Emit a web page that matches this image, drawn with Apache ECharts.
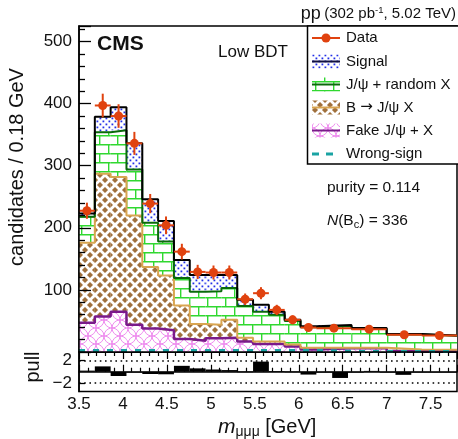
<!DOCTYPE html>
<html><head><meta charset="utf-8">
<script src="https://cdn.jsdelivr.net/npm/echarts@6/dist/echarts.min.js"></script>
<style>html,body{margin:0;padding:0;background:#fff}#c{width:458px;height:439px}</style>
</head><body><div id="c"></div>
<script>
// ---------------- data ----------------
const binEdges     = [3.5, 3.68, 3.86, 4.04, 4.22, 4.40, 4.58, 4.76, 4.94, 5.12, 5.30, 5.48, 5.66, 5.84, 6.02, 6.20, 6.60, 7.00, 7.40, 7.80];
const fakeVals     = [47, 57, 65, 44, 38, 35, 21, 18, 22, 23, 17, 13, 13, 9, 4, 6, 6, 1.5, 1.5];
const bjpsiVals    = [129, 230, 217, 176, 99, 88, 54, 27, 22, 29, 6, 4, 4, 3, 3, 1, 1, 2.5, 2];
const randomVals   = [42, 67, 75, 74, 71, 55, 44, 52, 54, 51, 51, 48, 43, 38, 33, 35, 30.5, 24, 22.5];
const signalVals   = [5, 25, 37, 42, 38, 33, 29, 27, 26, 21, 10, 11, 5, 2, 1.5, 1.5, 1, 1, 0.5];
const wrongSignVals= [2.5, 2.5, 2.5, 2.5, 2.5, 2.5, 2.5, 2.5, 2.5, 2.5, 2.5, 2.5, 2.5, 2.5, 2.5, 1, 1, 1, 1];
const dataVals     = [227.5, 397, 380, 336, 239, 204, 161.6, 129, 128, 128, 85, 94.7, 67.8, 51.8, 39.4, 38.4, 36.8, 27.7, 26.5];
const dataErrs     = [13, 19, 19, 18.5, 15.5, 14.3, 12.7, 11.4, 11.3, 11.3, 9.2, 9.7, 8.2, 7.2, 6.3, 4.2, 4.1, 3.5, 3.5];
const pullStart    = 3.5;
const pullBinWidth = 0.18;
const pullVals     = [0.2, 0.95, -0.75, -0.1, -0.4, -0.45, 1.05, 0.6, 0.4, 0.3, 0.05, 1.8, 0.1, 0.05, -0.5, 0, -1.1, 0, 0.15, 0, -0.55, 0, 0, 0];
const pullRefLevels= [2, -2];
const xTickLabels  = [3.5, 4, 4.5, 5, 5.5, 6, 6.5, 7, 7.5];
const yTickLabels  = [100, 200, 300, 400, 500];
const pullTickLabels = [-2, 2];
const xRange = [3.5, 7.8];
const yRange = [0, 525];
const pullRange = [-3.5, 3.5];

// ---------------- patterns ----------------
function pat(w, h, draw) {
  const c = document.createElement('canvas'); c.width = w; c.height = h;
  const g = c.getContext('2d'); g.fillStyle = '#fff'; g.fillRect(0, 0, w, h); draw(g);
  return { type: 'pattern', image: c, repeat: 'repeat' };
}
const signalPat = pat(6, 6, g => { g.fillStyle = '#2230e8'; g.fillRect(0.5, 0.5, 1.8, 1.8); g.fillRect(3.5, 3.5, 1.8, 1.8); });
const randomPat = pat(18, 18, g => {
  g.strokeStyle = '#30d830'; g.lineWidth = 1.4; g.beginPath();
  g.moveTo(0, 0.7); g.lineTo(18, 0.7); g.moveTo(0, 9.7); g.lineTo(18, 9.7);
  g.moveTo(0.7, 0); g.lineTo(0.7, 9); g.moveTo(9.7, 9); g.lineTo(9.7, 18); g.stroke();
});
const bPat = pat(10, 10, g => {
  g.fillStyle = '#a0703c'; g.fillRect(0, 0, 10, 10);
  g.strokeStyle = '#fff'; g.lineWidth = 2.8; g.beginPath();
  g.moveTo(-1, -1); g.lineTo(11, 11); g.moveTo(11, -1); g.lineTo(-1, 11); g.stroke();
});
const fakePat = pat(16, 16, g => {
  g.strokeStyle = '#ec80ec'; g.lineWidth = 0.9;
  [[8, 8], [0, 0], [16, 0], [0, 16], [16, 16]].forEach(([cx, cy]) => { g.beginPath(); g.arc(cx, cy, 8, 0, 2 * Math.PI); g.stroke(); });
});

const RED = '#e0420f';
const FONT = '"Liberation Sans", Arial, Helvetica, sans-serif';

// ---------------- stack ----------------
const comps = [
  { vals: fakeVals,   fill: fakePat,   line: '#7a1a8a', lw: 2.5 },
  { vals: bjpsiVals,  fill: bPat,      line: '#d9a550', lw: 2 },
  { vals: randomVals, fill: randomPat, line: '#0a6a0a', lw: 2 },
  { vals: signalVals, fill: signalPat, line: '#000',    lw: 2 }
];
const nb = binEdges.length - 1;
let lower = new Array(nb).fill(0);
const fillSeries = [], lineSeries = [];
comps.forEach(c => {
  const upper = lower.map((v, i) => v + c.vals[i]);
  const rows = upper.map((u, i) => [binEdges[i], binEdges[i + 1], lower[i], u]);
  const fill = c.fill;
  fillSeries.push({
    type: 'custom', xAxisIndex: 0, yAxisIndex: 0, z: 2, silent: true,
    encode: { x: [0, 1], y: [2, 3] }, data: rows,
    renderItem: (params, api) => {
      const p0 = api.coord([api.value(0), api.value(3)]);
      const p1 = api.coord([api.value(1), api.value(2)]);
      return { type: 'rect', shape: { x: p0[0], y: p0[1], width: p1[0] - p0[0], height: p1[1] - p0[1] }, style: { fill: fill } };
    }
  });
  const stepData = upper.map((u, i) => [binEdges[i], u]);
  stepData.push([binEdges[nb], upper[nb - 1]]);
  lineSeries.push({
    type: 'line', xAxisIndex: 0, yAxisIndex: 0, z: 3, step: 'end', symbol: 'none', silent: true,
    data: stepData, lineStyle: { color: c.line, width: c.lw }
  });
  lower = upper;
});
const wsData = wrongSignVals.map((v, i) => [binEdges[i], v]);
wsData.push([binEdges[nb], wrongSignVals[nb - 1]]);

const dataRows = dataVals.map((v, i) => [(binEdges[i] + binEdges[i + 1]) / 2, v, binEdges[i], binEdges[i + 1], dataErrs[i]]);
const pullRows = pullVals.map((v, i) => [pullStart + i * pullBinWidth, Math.min(pullStart + (i + 1) * pullBinWidth, xRange[1]), v]);

const chart = echarts.init(document.getElementById('c'), null, { renderer: 'canvas' });

const txtRich = { t: { fontSize: 15, fontFamily: FONT, fill: '#111' }, ar: { fontSize: 15, fontFamily: '"DejaVu Sans", sans-serif', fill: '#111' } };
const legendItems = [
  { y: 38, text: '{t|Data}' },
  { y: 61.5, text: '{t|Signal}' },
  { y: 84.5, text: '{t|J/ψ + random X}' },
  { y: 107.5, text: '{t|B }{ar|→}{t| J/ψ X}' },
  { y: 130.5, text: '{t|Fake J/ψ + X}' },
  { y: 154, text: '{t|Wrong-sign}' }
];
const lg = [];
lg.push({ type: 'rect', shape: { x: 307.5, y: 26, width: 152, height: 138 }, style: { fill: '#fff', stroke: '#000', lineWidth: 1.5 }, z: 50 });
legendItems.forEach(it => lg.push({ type: 'text', x: 346, y: it.y, style: { text: it.text, rich: txtRich, textVerticalAlign: 'middle' }, z: 51 }));
// data icon
lg.push({ type: 'line', shape: { x1: 312, y1: 38, x2: 340, y2: 38 }, style: { stroke: RED, lineWidth: 2 }, z: 51 });
lg.push({ type: 'circle', shape: { cx: 326, cy: 38, r: 4.5 }, style: { fill: RED }, z: 51 });
// fill icons
[[61.5, signalPat, '#101040'], [84.5, randomPat, '#0a6a0a'], [107.5, bPat, '#d9a550'], [130.5, fakePat, '#7a1a8a']].forEach(([y, f, c]) => {
  lg.push({ type: 'rect', shape: { x: 312, y: y - 7, width: 28, height: 14 }, style: { fill: f }, z: 51 });
  lg.push({ type: 'line', shape: { x1: 312, y1: y, x2: 340, y2: y }, style: { stroke: c, lineWidth: 2 }, z: 52 });
});
lg.push({ type: 'line', shape: { x1: 312, y1: 154, x2: 340, y2: 154 }, style: { stroke: '#1aa3a3', lineWidth: 3, lineDash: [7, 7] }, z: 51 });

const texts = [
  { type: 'text', x: 456, y: 14, style: { rich: { a: { fontSize: 18, fontFamily: FONT, fill: '#111' }, b: { fontSize: 15, fontFamily: FONT, fill: '#111' }, s: { fontSize: 9.5, fontFamily: FONT, fill: '#111', verticalAlign: 'top' } }, text: '{a|pp} {b|(302 pb}{s|-1}{b|, 5.02 TeV)}', textAlign: 'right', textVerticalAlign: 'middle' }, z: 60 },
  { type: 'text', x: 97, y: 44, style: { text: 'CMS', font: 'bold 21px ' + FONT, fill: '#111', textVerticalAlign: 'middle' }, z: 60 },
  { type: 'text', x: 218, y: 52, style: { text: 'Low BDT', font: '17px ' + FONT, fill: '#111', textVerticalAlign: 'middle' }, z: 60 },
  { type: 'text', x: 327, y: 188, style: { text: 'purity = 0.114', font: '15.5px ' + FONT, fill: '#111', textVerticalAlign: 'middle' }, z: 60 },
  { type: 'text', x: 327, y: 221, style: { rich: { i: { fontSize: 15.5, fontStyle: 'italic', fontFamily: FONT, fill: '#111' }, n: { fontSize: 15.5, fontFamily: FONT, fill: '#111' }, c: { fontSize: 11, fontFamily: FONT, fill: '#111', verticalAlign: 'bottom', padding: [8, 0, 0, 0] } }, text: '{i|N}{n|(B}{c|c}{n|) = 336}', textVerticalAlign: 'middle' }, z: 60 },
  { type: 'text', x: 218, y: 427, style: { rich: { m: { fontSize: 21, fontStyle: 'italic', fontFamily: FONT, fill: '#111' }, s: { fontSize: 14, fontFamily: FONT, fill: '#111', verticalAlign: 'bottom', padding: [10, 0, 0, 0] }, t: { fontSize: 20, fontFamily: FONT, fill: '#111' } }, text: '{m|m}{s|μμμ}{t| [GeV]}', textVerticalAlign: 'middle' }, z: 60 },
  { type: 'text', x: 17, y: 167, rotation: Math.PI / 2, style: { text: 'candidates / 0.18 GeV', font: '20px ' + FONT, fill: '#111', textAlign: 'center', textVerticalAlign: 'middle' }, z: 60 },
  { type: 'text', x: 33, y: 367, rotation: Math.PI / 2, style: { text: 'pull', font: '20px ' + FONT, fill: '#111', textAlign: 'center', textVerticalAlign: 'middle' }, z: 60 }
];

function onList(list) { return v => list.some(t => Math.abs(t - v) < 1e-6); }

const option = {
  animation: false,
  backgroundColor: '#fff',
  grid: [
    { left: 79, right: 1, top: 26, height: 326, show: true, borderColor: '#000', borderWidth: 1.5, backgroundColor: 'transparent' },
    { left: 79, right: 1, top: 352, height: 39.5, show: true, borderColor: '#000', borderWidth: 1.5, backgroundColor: 'transparent' }
  ],
  xAxis: [
    { type: 'value', gridIndex: 0, min: xRange[0], max: xRange[1], interval: 0.5, axisLine: { show: false }, axisTick: { show: false }, axisLabel: { show: false }, splitLine: { show: false } },
    { type: 'value', gridIndex: 1, min: xRange[0], max: xRange[1], interval: 0.5, z: 10,
      axisLine: { show: true, lineStyle: { color: '#000', width: 1.5 } },
      axisTick: { show: true, inside: true, length: 7, lineStyle: { color: '#000', width: 1.2 } },
      minorTick: { show: true, splitNumber: 5, length: 4, lineStyle: { color: '#000', width: 1.2 } },
      axisLabel: { show: true, customValues: xTickLabels, margin: 4, fontSize: 17, fontFamily: FONT, color: '#111',
        formatter: v => onList(xTickLabels)(v) ? String(v) : '' },
      splitLine: { show: false } },
    { type: 'value', gridIndex: 1, position: 'top', min: xRange[0], max: xRange[1], interval: 0.5, z: 10,
      axisLine: { show: true, lineStyle: { color: '#000', width: 1.5 } },
      axisTick: { show: true, inside: true, length: 7, lineStyle: { color: '#000', width: 1.2 } },
      minorTick: { show: true, splitNumber: 5, length: 4, lineStyle: { color: '#000', width: 1.2 } },
      axisLabel: { show: false }, splitLine: { show: false } }
  ],
  yAxis: [
    { type: 'value', gridIndex: 0, min: yRange[0], max: yRange[1], interval: 100, z: 10,
      axisLine: { show: true, lineStyle: { color: '#000', width: 1.5 } },
      axisTick: { show: true, inside: true, length: 12, lineStyle: { color: '#000', width: 1.3 } },
      minorTick: { show: true, splitNumber: 5, length: 6, lineStyle: { color: '#000', width: 1.3 } },
      axisLabel: { customValues: yTickLabels, margin: 7, fontSize: 17, fontFamily: FONT, color: '#111',
        formatter: v => onList(yTickLabels)(v) ? String(v) : '' },
      splitLine: { show: false } },
    { type: 'value', gridIndex: 1, min: pullRange[0], max: pullRange[1], z: 10,
      axisLine: { show: true, lineStyle: { color: '#000', width: 1.5 } },
      axisTick: { show: true, inside: true, length: 6, customValues: pullTickLabels, lineStyle: { color: '#000', width: 1.3 } },
      axisLabel: { customValues: pullTickLabels, margin: 7, fontSize: 17, fontFamily: FONT, color: '#111',
        formatter: v => onList(pullTickLabels)(v) ? (v < 0 ? '\u2212' + Math.abs(v) : String(v)) : '' },
      splitLine: { show: false } }
  ],
  series: [
    ...fillSeries,
    ...lineSeries,
    { type: 'line', xAxisIndex: 0, yAxisIndex: 0, z: 4, step: 'end', symbol: 'none', silent: true, data: wsData,
      lineStyle: { color: '#1aa3a3', width: 3, type: [6, 8] } },
    { type: 'custom', xAxisIndex: 0, yAxisIndex: 0, z: 5, silent: true, encode: { x: 0, y: 1 }, data: dataRows,
      renderItem: (params, api) => {
        const x = api.value(0), y = api.value(1), xl = api.value(2), xh = api.value(3), e = api.value(4);
        const c = api.coord([x, y]), l = api.coord([xl, y]), r = api.coord([xh, y]);
        const t = api.coord([x, y + e]), b = api.coord([x, y - e]);
        return { type: 'group', children: [
          { type: 'line', shape: { x1: l[0], y1: l[1], x2: r[0], y2: r[1] }, style: { stroke: RED, lineWidth: 2 } },
          { type: 'line', shape: { x1: t[0], y1: t[1], x2: b[0], y2: b[1] }, style: { stroke: RED, lineWidth: 2 } },
          { type: 'circle', shape: { cx: c[0], cy: c[1], r: 4.5 }, style: { fill: RED } }
        ] };
      } },
    { type: 'custom', xAxisIndex: 1, yAxisIndex: 1, z: 5, silent: true, encode: { x: [0, 1], y: 2 }, data: pullRows,
      renderItem: (params, api) => {
        const p0 = api.coord([api.value(0), Math.max(api.value(2), 0)]);
        const p1 = api.coord([api.value(1), Math.min(api.value(2), 0)]);
        return { type: 'rect', shape: { x: p0[0], y: p0[1], width: p1[0] - p0[0], height: Math.max(p1[1] - p0[1], 0.8) }, style: { fill: '#000' } };
      } },
    { type: 'line', xAxisIndex: 1, yAxisIndex: 1, data: [], silent: true,
      markLine: { symbol: 'none', silent: true, label: { show: false }, animation: false,
        lineStyle: { color: '#000', width: 1.6, type: [1.6, 3.6] },
        data: pullRefLevels.map(v => ({ yAxis: v })) } }
  ],
  graphic: [...texts, ...lg]
};
chart.setOption(option);
</script>
</body></html>
